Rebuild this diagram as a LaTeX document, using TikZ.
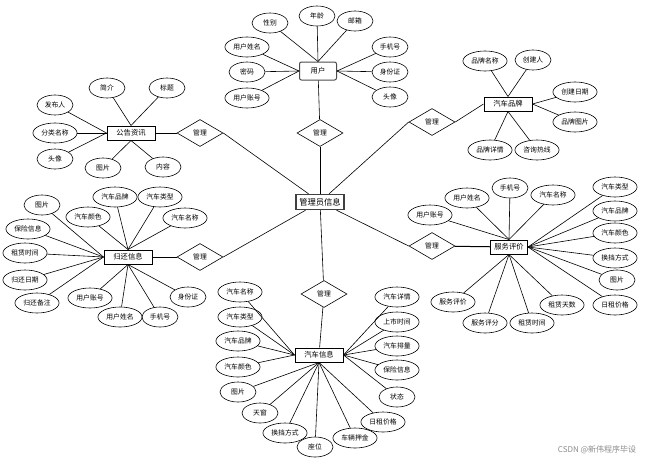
\documentclass[tikz,border=0pt]{standalone}
\usepackage{fontspec}
\setmainfont{Noto Sans CJK SC}
\usetikzlibrary{shapes.geometric}
\begin{document}
\begin{tikzpicture}[x=1pt,y=-1pt,
 attr/.style={ellipse,draw,line width=0.6pt,minimum width=36pt,minimum height=20pt,inner xsep=2pt,inner ysep=0.5pt,font=\fontsize{6.8}{7}\selectfont},
 ent/.style={rectangle,draw,line width=1pt,minimum width=48pt,minimum height=14pt,inner xsep=2pt,font=\fontsize{7.3}{8}\selectfont},
 rel/.style={diamond,draw,line width=0.6pt,minimum width=46pt,minimum height=27pt,aspect=1.7,inner sep=0pt,font=\fontsize{6.8}{7}\selectfont},
 lnk/.style={line width=0.6pt}]
\useasboundingbox (0,0) rectangle (664,464);
\fill[white] (0,0) rectangle (664,464);

% central
\node[ent,draw=black!75,line width=1.4pt,minimum width=48pt,minimum height=15pt,font=\fontsize{8.3}{9}\selectfont] (adm) at (320,202) {管理员信息};
\node[rel] (r1) at (320,133) {管理};
\node[rel] (r2) at (200,133) {管理};
\node[rel] (r3) at (432,122) {管理};
\node[rel] (r4) at (200,257) {管理};
\node[rel] (r5) at (432,246) {管理};
\node[rel] (r6) at (324,294) {管理};

% entities
\node[ent,rounded corners=2pt,draw=black!70,minimum width=37pt,minimum height=18pt] (user) at (318,71) {用户};
\node[ent] (ann) at (131,133) {公告资讯};
\node[ent] (brand) at (508,104) {汽车品牌};
\node[ent] (ret) at (128,257) {归还信息};
\node[ent,minimum width=37pt] (srv) at (509,247) {服务评价};
\node[ent] (car) at (319,355) {汽车信息};

\draw[lnk] (adm) -- (r1); \draw[lnk] (r1) -- (user);
\draw[lnk] (adm) -- (r2.east); \draw[lnk,line width=1pt] (r2) -- (ann);
\draw[lnk] (adm) -- (r3.west); \draw[lnk] (r3.east) -- (brand.west);
\draw[lnk] (adm) -- (r4.east); \draw[lnk,line width=1pt] (r4) -- (ret);
\draw[lnk] (adm) -- (r5.west); \draw[lnk,line width=1pt] (r5) -- (srv);
\draw[lnk] (adm) -- (r6); \draw[lnk] (r6) -- (car);

% user attributes
\node[attr] (u1) at (270,23) {性别};
\node[attr] (u2) at (317,16) {年龄};
\node[attr] (u3) at (355,21) {邮箱};
\node[attr] (u4) at (247,47) {用户姓名};
\node[attr] (u5) at (247,72) {密码};
\node[attr] (u6) at (247,98) {用户账号};
\node[attr] (u7) at (390,47) {手机号};
\node[attr] (u8) at (390,72) {身份证};
\node[attr] (u9) at (390,97) {头像};
\foreach \a in {u1,u2,u3} \draw[lnk] (\a) -- (user.north);
\foreach \a in {u4,u5,u6} \draw[lnk] (\a) -- (user.west);
\foreach \a in {u7,u8,u9} \draw[lnk] (\a) -- (user.east);

% announcement attributes
\node[attr] (a1) at (107,88) {简介};
\node[attr] (a2) at (167,88) {标题};
\node[attr] (a3) at (55,105) {发布人};
\node[attr] (a4) at (55,133) {分类名称};
\node[attr] (a5) at (55,159) {头像};
\node[attr] (a6) at (103,168) {图片};
\node[attr] (a7) at (163,167) {内容};
\foreach \a in {a1,a2} \draw[lnk] (\a) -- (ann.north);
\foreach \a in {a3,a5} \draw[lnk] (\a) -- (ann.west);
\draw[lnk,line width=1pt] (a4) -- (ann.west);
\foreach \a in {a6,a7} \draw[lnk] (\a) -- (ann.south);

% brand attributes
\node[attr] (b1) at (485,61) {品牌名称};
\node[attr] (b2) at (533,60) {创建人};
\node[attr] (b3) at (575,92) {创建日期};
\node[attr] (b4) at (575,122) {品牌图片};
\node[attr] (b5) at (490,150) {品牌详情};
\node[attr] (b6) at (537,150) {咨询热线};
\foreach \a in {b1,b2} \draw[lnk] (\a) -- (brand.north);
\foreach \a in {b3,b4} \draw[lnk] (\a) -- (brand.east);
\foreach \a in {b5,b6} \draw[lnk] (\a) -- (brand.south);

% return attributes
\node[attr] (t1) at (42,205) {图片};
\node[attr] (t2) at (115,197) {汽车品牌};
\node[attr] (t3) at (160,197) {汽车类型};
\node[attr] (t4) at (88,217) {汽车颜色};
\node[attr] (t5) at (185,218) {汽车名称};
\node[attr] (t6) at (28,229) {保险信息};
\node[attr] (t7) at (25,253) {租赁时间};
\node[attr] (t8) at (25,280) {归还日期};
\node[attr] (t9) at (37,303) {归还备注};
\node[attr] (t10) at (90,298) {用户账号};
\node[attr] (t11) at (120,317) {用户姓名};
\node[attr] (t12) at (160,317) {手机号};
\node[attr] (t13) at (188,297) {身份证};
\foreach \a in {t1,t6,t7,t8,t9} \draw[lnk] (\a) -- (ret.west);
\foreach \a in {t2,t3,t4,t5} \draw[lnk] (\a) -- (ret.north);
\foreach \a in {t10,t11,t12,t13} \draw[lnk] (\a) -- (ret.south);

% service attributes
\node[attr] (s1) at (430,215) {用户账号};
\node[attr] (s2) at (467,198) {用户姓名};
\node[attr] (s3) at (510,188) {手机号};
\node[attr] (s4) at (553,195) {汽车名称};
\node[attr] (s5) at (615,187) {汽车类型};
\node[attr] (s6) at (615,211) {汽车品牌};
\node[attr] (s7) at (615,233) {汽车颜色};
\node[attr] (s8) at (615,258) {换挡方式};
\node[attr] (s9) at (617,280) {图片};
\node[attr] (s10) at (615,305) {日租价格};
\node[attr] (s11) at (453,302) {服务评价};
\node[attr] (s12) at (485,323) {服务评分};
\node[attr] (s13) at (532,323) {租赁时间};
\node[attr] (s14) at (562,305) {租赁天数};
\foreach \a in {s1,s2,s3,s4} \draw[lnk] (\a) -- (srv.north);
\foreach \a in {s5,s6,s7,s8,s9,s10} \draw[lnk] (\a) -- (srv.east);
\foreach \a in {s11,s12,s13,s14} \draw[lnk] (\a) -- (srv.south);

% car attributes
\node[attr] (c1) at (240,292) {汽车名称};
\node[attr] (c2) at (240,317) {汽车类型};
\node[attr] (c3) at (238,341) {汽车品牌};
\node[attr] (c4) at (238,367) {汽车颜色};
\node[attr] (c5) at (238,392) {图片};
\node[attr] (c6) at (260,413) {天窗};
\node[attr] (c7) at (285,433) {换挡方式};
\node[attr] (c8) at (315,447) {座位};
\node[attr] (c9) at (355,438) {车辆押金};
\node[attr] (c10) at (383,422) {日租价格};
\node[attr] (c11) at (397,397) {状态};
\node[attr] (c12) at (397,370) {保险信息};
\node[attr] (c13) at (397,346) {汽车排量};
\node[attr] (c14) at (397,322) {上市时间};
\node[attr] (c15) at (397,297) {汽车详情};
\foreach \a in {c1,c2,c3,c4} \draw[lnk] (\a) -- (car.west);
\foreach \a in {c5,c6,c7,c8,c9,c10} \draw[lnk] (\a) -- (car.south);
\foreach \a in {c11,c12,c13,c14,c15} \draw[lnk] (\a) -- (car.east);

\node[text=black!45,font=\fontsize{8}{9}\selectfont] (wm) at (597,450) {CSDN @新伟程序毕设};
\end{tikzpicture}
\end{document}
